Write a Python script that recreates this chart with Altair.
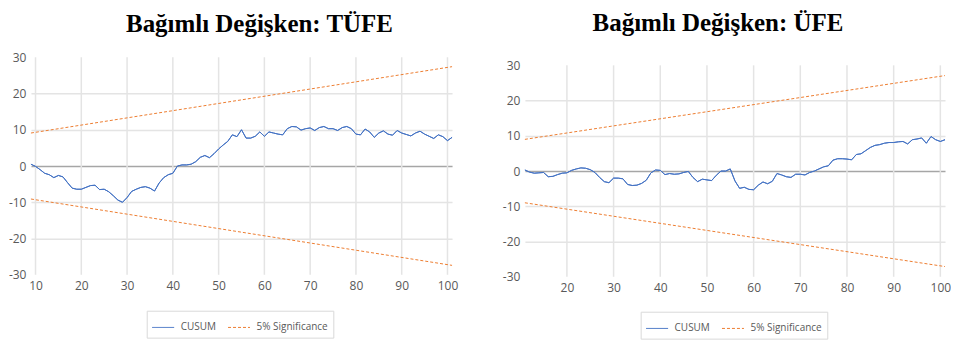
import altair as alt
import pandas as pd

# ---- Data ----
x_tufe = list(range(9, 102))
cusum_tufe = [0.5, -0.1, -1.0, -2.0, -2.4, -3.2, -2.6, -3.0, -4.6, -6.1,
              -6.4, -6.4, -5.9, -5.4, -5.3, -6.5, -6.4, -7.1, -8.2, -9.4,
              -10.0, -8.7, -7.0, -6.4, -5.9, -5.7, -6.1, -6.9, -4.7, -3.2,
              -2.4, -2.0, 0.0, 0.3, 0.3, 0.5, 1.2, 2.4, 2.9, 2.3,
              3.4, 4.7, 5.8, 6.8, 8.6, 8.1, 10.0, 7.7, 7.7, 8.2,
              9.4, 8.2, 9.4, 9.1, 8.8, 8.6, 10.3, 10.9, 10.8, 9.9,
              10.3, 10.5, 9.8, 10.6, 10.9, 10.3, 10.3, 9.8, 10.6, 10.9,
              10.3, 8.8, 8.6, 10.2, 9.4, 7.9, 9.1, 9.7, 8.8, 8.5,
              9.8, 9.1, 8.7, 8.3, 9.1, 9.6, 8.8, 8.2, 7.6, 8.6,
              8.1, 7.0, 7.9]
sig_tufe_x = [9, 101]
sig_tufe_upper = [9.1, 27.4]
sig_tufe_lower = [-9.1, -27.4]
xticks_tufe = [10, 20, 30, 40, 50, 60, 70, 80, 90, 100]

x_ufe = list(range(11, 102))
cusum_ufe = [0.3, -0.3, -0.6, -0.5, -0.4, -1.6, -1.5, -1.0, -0.6, -0.5,
             0.2, 0.6, 0.9, 0.8, 0.4, -0.4, -1.8, -3.0, -3.3, -2.0,
             -2.0, -2.2, -3.8, -4.1, -4.0, -3.5, -2.6, -0.5, 0.3, 0.2,
             -1.0, -0.7, -0.9, -0.8, -0.4, -0.1, -1.8, -3.0, -2.3, -2.5,
             -2.7, -1.2, 0.0, 0.0, 0.6, -2.8, -4.9, -4.6, -5.2, -5.3,
             -4.0, -3.1, -3.6, -2.9, -0.7, -1.1, -1.6, -1.8, -0.9, -0.9,
             -1.1, -0.4, 0.0, 0.6, 1.2, 1.5, 3.1, 3.5, 3.5, 3.4,
             3.2, 4.7, 4.9, 5.8, 6.7, 7.3, 7.5, 7.9, 8.1, 8.1,
             8.3, 8.4, 7.7, 8.9, 9.1, 9.4, 7.9, 9.8, 8.9, 8.4,
             8.9]
sig_ufe_x = [11, 101]
sig_ufe_upper = [9.0, 27.1]
sig_ufe_lower = [-9.0, -27.1]
xticks_ufe = [20, 30, 40, 50, 60, 70, 80, 90, 100]

series_names = ["CUSUM", "5% Significance"]
series_colors = ["#4472c4", "#ed7d31"]
y_ticks = [-30, -20, -10, 0, 10, 20, 30]

FONT = "Open Sans"
LABEL_COLOR = "#595959"
GRID_COLOR = "#e4e4e4"
ZERO_COLOR = "#a6a6a6"

SIG_TEST = "indexof(datum.value, 'Significance') >= 0"


def panel(key, xs, cusum, sx, su, sl, xdom, xticks, ydom, title, title_dx,
          title_offset, w, h, legend_x, legend_y):
    names = [n + "|" + key for n in series_names]
    cus_df = pd.DataFrame({"x": xs, "y": cusum, "series": names[0], "line": "c"})
    sig_df = pd.DataFrame({
        "x": list(sx) + list(sx),
        "y": list(su) + list(sl),
        "series": names[1],
        "line": ["u"] * len(sx) + ["l"] * len(sx),
    })
    grid_df = pd.DataFrame({"x": xticks, "y": [-30] * len(xticks),
                            "y2": [30] * len(xticks)})

    color = alt.Color(
        "series:N",
        scale=alt.Scale(domain=names, range=series_colors),
        legend=alt.Legend(
            title=None, orient="none", legendX=legend_x, legendY=legend_y,
            direction="horizontal", strokeColor="#d9d9d9", padding=5,
            labelFont=FONT, labelFontSize=10, labelColor=LABEL_COLOR,
            symbolType="stroke", symbolSize=484, symbolStrokeWidth=1,
            labelOffset=6, columnPadding=9, fillColor="white",
            symbolStrokeColor={"expr": f"{SIG_TEST} ? '{series_colors[1]}' : '{series_colors[0]}'"},
            symbolDash={"expr": f"{SIG_TEST} ? [3, 2] : [1, 0]"},
            labelExpr="split(datum.label, '|')[0]"))

    xenc = alt.X("x:Q", scale=alt.Scale(domain=xdom, nice=False, zero=False),
                 axis=alt.Axis(values=xticks, title=None, domain=False, ticks=False,
                               grid=False, labelOverlap=False,
                               labelFont=FONT, labelFontSize=12, labelColor=LABEL_COLOR,
                               labelPadding=6, labelFlush=False))
    yenc = alt.Y("y:Q", scale=alt.Scale(domain=ydom, nice=False, zero=False),
                 axis=alt.Axis(values=y_ticks, title=None, domain=False, ticks=False,
                               grid=True,
                               gridColor={"condition": {"test": "datum.value == 0", "value": ZERO_COLOR}, "value": GRID_COLOR},
                               gridWidth=1.5,
                               gridOpacity={"condition": {"test": "abs(datum.value) > 25", "value": 0}, "value": 1},
                               labelOverlap=False,
                               labelFont=FONT, labelFontSize=12, labelColor=LABEL_COLOR,
                               labelPadding=5, labelExpr="datum.value + ''"))

    cus = alt.Chart(cus_df).mark_line(strokeWidth=1).encode(
        x=xenc, y=yenc, color=color)
    vgrid = alt.Chart(grid_df).mark_rule(strokeWidth=1.5).encode(
        x=xenc, y=yenc, y2=alt.Y2("y2:Q"))
    sig = alt.Chart(sig_df).mark_line(strokeWidth=1, strokeDash=[3, 2]).encode(
        x=xenc, y=yenc, detail="line:N", color=color)

    return alt.layer(vgrid, cus, sig, cus).properties(
        width=w, height=h,
        title=alt.TitleParams(title, font="Liberation Serif", fontSize=25,
                              fontWeight="bold", color="black", anchor="middle",
                              dx=title_dx, offset=title_offset))


left = panel("a", x_tufe, cusum_tufe, sig_tufe_x, sig_tufe_upper,
             sig_tufe_lower, [9, 101], xticks_tufe, [-30, 30],
             "Bağımlı Değişken: TÜFE", 18, 14, 422, 218, 116, 254)
right = panel("b", x_ufe, cusum_ufe, sig_ufe_x, sig_ufe_upper,
              sig_ufe_lower, [11, 101], xticks_ufe, [-30, 32.3],
              "Bağımlı Değişken: ÜFE", -17, 21, 421, 220, 116, 255)

chart = alt.hconcat(left, right, spacing=44).resolve_scale(
    color="independent", x="independent", y="independent"
).resolve_legend(
    color="independent"
).configure_view(stroke=None).configure_rule(color=GRID_COLOR).properties(
    padding={"top": 3, "left": 0, "right": 0, "bottom": 0}, background="white")

chart.save("out.html", embed_options={"renderer": "svg", "actions": False})
